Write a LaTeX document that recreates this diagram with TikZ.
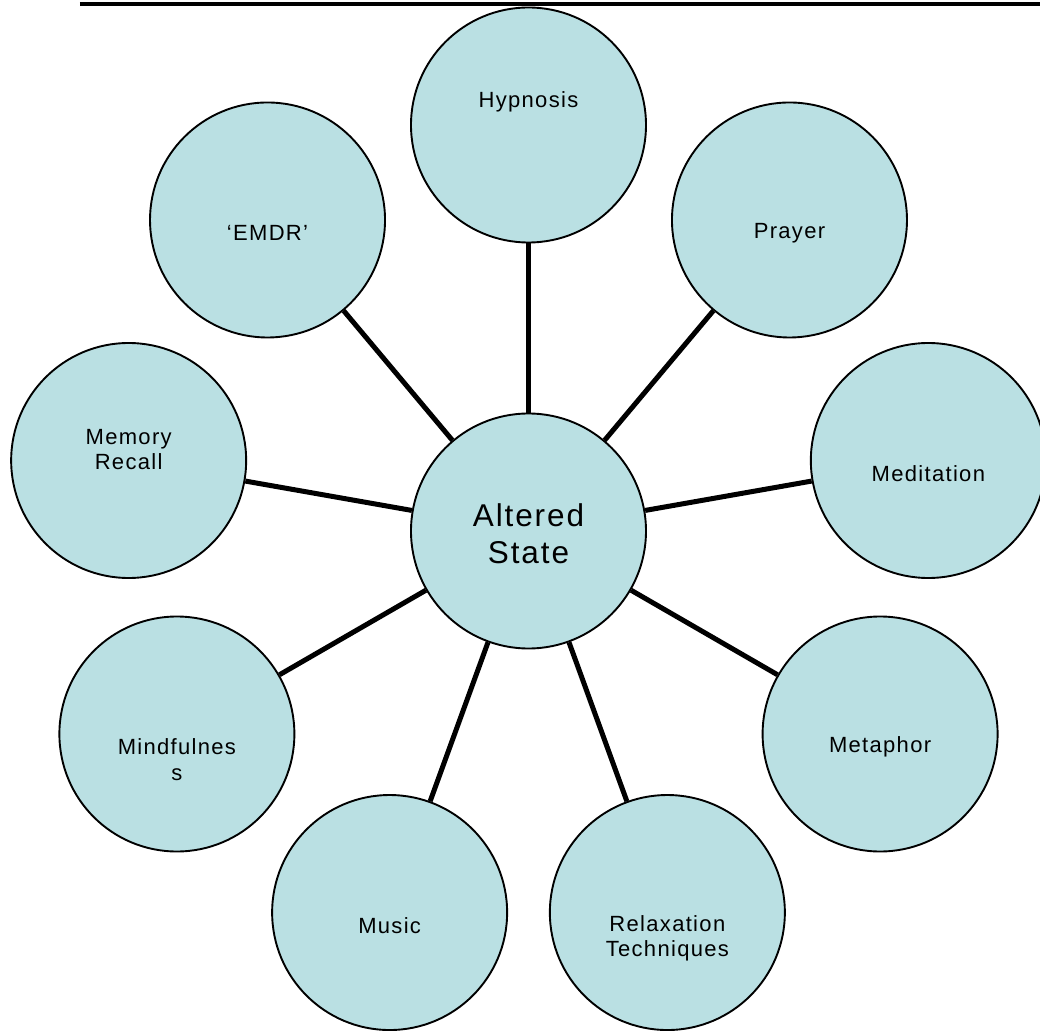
\documentclass[tikz,border=0pt]{standalone}
\usepackage{fontspec}
\setmainfont{Liberation Sans}[LetterSpace=6]
\definecolor{bubblefill}{RGB}{186,224,227}

\begin{document}
\begin{tikzpicture}[x=1pt, y=1pt,
  bubble/.style={circle, draw, line width=1.9pt, fill=bubblefill, minimum size=235pt, inner sep=0pt},
  bubtext/.style={align=center, font=\fontsize{22}{25.3}\selectfont},
  spoke/.style={line width=5pt}]

\useasboundingbox (-528.5,-502) rectangle (511.5,531);

% title rule
\draw[line width=4pt] (-448.5,526.7) -- (511.5,526.7);

\node[bubble] (alt) at (0,0) {};
\node[bubtext, font=\fontsize{31.5}{36.5}\selectfont] (alt-t) at ([yshift=-2.5]alt) {Altered\\State};

\foreach \ang/\nm/\dy/\txt in {90/hyp/23/Hypnosis, 130/emdr/-13/‘EMDR’,
  170/memory/11/{Memory\\Recall}, 210/mindf/-25.5/{Mindfulnes\\s},
  250/music/-13/Music, 290/relax/-25.5/{Relaxation\\Techniques},
  330/metaph/-13/Metaphor, 10/medit/-13/Meditation, 50/prayer/-13/Prayer}{
\node[bubble] (\nm) at (\ang:406) {};
\node[bubtext] (\nm-t) at ([yshift=\dy]\nm) {\txt};
\draw[spoke] (alt) -- (\nm);
}

\end{tikzpicture}
\end{document}
